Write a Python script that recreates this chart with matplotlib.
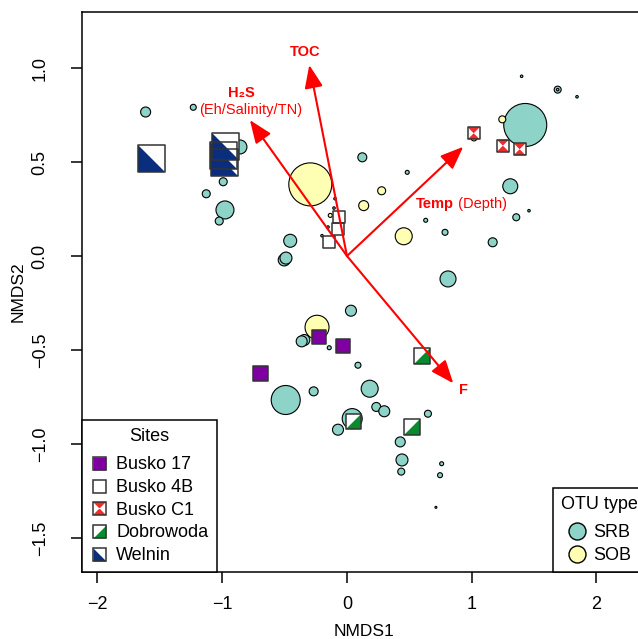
import matplotlib
matplotlib.use('Agg')
import matplotlib.pyplot as plt
from matplotlib.lines import Line2D
from matplotlib.path import Path
from matplotlib.legend_handler import HandlerTuple
from matplotlib.ticker import FuncFormatter

plt.rcParams['font.family'] = ['Liberation Sans', 'DejaVu Sans']

# OTU bubbles (NMDS1, NMDS2, bubble diameter ~ relative abundance)
srb_x = [-1.614, -1.232, -0.858, -0.992, -1.128, -0.978, -1.024, -0.455, -0.503, -0.489,
         0.123, 1.309, 1.357, 0.786, 1.168, 0.810, 1.429, 1.689, 0.032, -0.342,
         -0.363, -0.142, 0.088, -0.491, -0.267, 0.182, 0.235, 0.299, 0.042, -0.072,
         0.649, 0.427, 0.441, 0.435, 0.759, 0.746, 0.483, 0.631,
         1.400, 1.844, 1.459, 0.713, -0.096, -0.104, -0.152, -0.200, 1.689]
srb_y = [0.766, 0.791, 0.580, 0.395, 0.331, 0.245, 0.186, 0.081, -0.021, -0.011,
         0.525, 0.371, 0.206, 0.126, 0.073, -0.122, 0.697, 0.885, -0.291, -0.447,
         -0.454, -0.488, -0.581, -0.766, -0.720, -0.706, -0.803, -0.826, -0.865, -0.924,
         -0.839, -0.989, -1.085, -1.147, -1.105, -1.166, 0.445, 0.190,
         0.956, 0.847, 0.241, -1.337, 0.305, 0.255, 0.154, 0.108, 0.885]
srb_size = [10, 6, 14, 8, 8, 18, 8, 13, 12, 12,
            9, 15, 7, 6, 9, 16, 43, 7, 11, 11,
            11, 4, 6, 29, 9, 17, 9, 11, 20, 11,
            7, 10, 12, 7, 4, 5, 4, 4,
            2.5, 2.5, 2.5, 2, 2.5, 2.5, 2.5, 2.5, 2.5]

sob_x = [-0.294, 1.245, 1.018, 0.278, 0.134, 0.455, -0.240, -0.134]
sob_y = [0.381, 0.727, 0.628, 0.347, 0.268, 0.105, -0.379, 0.216]
sob_size = [43, 7, 6, 8, 10, 17, 24, 4]

# samples per site
site_names = ['Busko 17', 'Busko 4B', 'Busko C1', 'Dobrowoda', 'Welnin']
busko17_x = [-0.222, -0.034, -0.695]
busko17_y = [-0.431, -0.477, -0.626]
busko17_size = [14, 14, 15]
busko4b_x = [-0.064, -0.075, -0.144]
busko4b_y = [0.207, 0.142, 0.073]
busko4b_size = [12, 12, 12]
buskoc1_x = [1.016, 1.250, 1.384]
buskoc1_y = [0.653, 0.587, 0.568]
buskoc1_size = [12, 12, 12]
dobro_x = [0.599, 0.054, 0.521]
dobro_y = [-0.532, -0.883, -0.908]
dobro_size = [16, 15, 16]
welnin_x = [-1.566, -0.986, -0.978, -0.970]
welnin_y = [0.520, 0.537, 0.500, 0.585]
welnin_size = [27, 27, 27, 27]

# environmental fit vectors
env_x = [-0.302, -0.778, 0.932, 0.852]
env_y = [1.016, 0.723, 0.581, -0.677]

SRB_COL = '#8DD3C7'
SOB_COL = '#FFFFB3'
PX = 0.72  # points per pixel at dpi 100

lower_right = Path([(-1, -1), (1, -1), (1, 1), (-1, -1)],
                   [Path.MOVETO, Path.LINETO, Path.LINETO, Path.CLOSEPOLY])
lower_left = Path([(-1, 1), (-1, -1), (1, -1), (-1, 1)],
                  [Path.MOVETO, Path.LINETO, Path.LINETO, Path.CLOSEPOLY])
hourglass = Path([(-1, 1), (1, 1), (0, 0), (-1, 1),
                  (-1, -1), (1, -1), (0, 0), (-1, -1)],
                 [Path.MOVETO, Path.LINETO, Path.LINETO, Path.CLOSEPOLY] * 2)

site_styles = [
    ('#7F00A0', None, None),
    ('white', None, None),
    ('white', hourglass, '#EE2C2C'),
    ('white', lower_right, '#0A8A2E'),
    ('white', lower_left, '#0B2D7E'),
]
site_data = [
    (busko17_x, busko17_y, busko17_size),
    (busko4b_x, busko4b_y, busko4b_size),
    (buskoc1_x, buskoc1_y, buskoc1_size),
    (dobro_x, dobro_y, dobro_size),
    (welnin_x, welnin_y, welnin_size),
]


def draw_site(ax, xs, ys, sizes, face, overlay, overlay_col):
    s = [(d * PX) ** 2 for d in sizes]
    ax.scatter(xs, ys, s=s, marker='s', color=face, edgecolors='none', zorder=3)
    if overlay is not None:
        ax.scatter(xs, ys, s=s, marker=overlay, color=overlay_col, edgecolors='none', zorder=3)
    ax.scatter(xs, ys, s=s, marker='s', facecolors='none', edgecolors='#333333',
               linewidths=1.1, zorder=3)


def site_handle(face, overlay, overlay_col):
    ms = 13 * PX
    parts = [Line2D([], [], ls='', marker='s', ms=ms, mfc=face, mec='none')]
    if overlay is not None:
        parts.append(Line2D([], [], ls='', marker=overlay, ms=ms, mfc=overlay_col, mec='none'))
    parts.append(Line2D([], [], ls='', marker='s', ms=ms, mfc='none', mec='#333333', mew=1.1))
    return tuple(parts)


def style_legend(leg):
    leg.get_frame().set_linewidth(1.1)
    leg.set_zorder(6)
    leg._legend_box.sep = 8


fig = plt.figure(figsize=(6.38, 6.39), dpi=100)
ax = fig.add_axes([82 / 638, 67 / 639, 564 / 638, 560 / 639])
ax.set_xlim(-2.124, 2.397)
ax.set_ylim(-1.681, 1.298)

ax.scatter(srb_x, srb_y, s=[(d * PX) ** 2 for d in srb_size], color=SRB_COL,
           edgecolors='black', linewidths=0.8, zorder=2)
ax.scatter(sob_x, sob_y, s=[(d * PX) ** 2 for d in sob_size], color=SOB_COL,
           edgecolors='black', linewidths=0.8, zorder=2)

for (xs, ys, sz), (face, ov, ovc) in zip(site_data, site_styles):
    draw_site(ax, xs, ys, sz, face, ov, ovc)

# vectors
for ex, ey in zip(env_x, env_y):
    ax.annotate('', xy=(ex, ey), xytext=(0, 0), zorder=4,
                arrowprops=dict(arrowstyle='-|>,head_length=0.7,head_width=0.28',
                                color='red', lw=1.5, mutation_scale=20,
                                shrinkA=0, shrinkB=0))
ax.text(-0.337, 1.083, 'TOC', color='red', fontsize=10.5, fontweight='bold',
        ha='center', va='center', zorder=4)
ax.text(-0.850, 0.865, 'H\u2082S', color='red', fontsize=10.5, fontweight='bold',
        ha='center', va='center', zorder=4)
ax.text(-0.772, 0.777, '(Eh/Salinity/TN)', color='red', fontsize=10.5,
        ha='center', va='center', zorder=4)
t = ax.text(0.553, 0.275, 'Temp', color='red', fontsize=10.5, fontweight='bold',
            ha='left', va='center', zorder=4)
ax.annotate(' (Depth)', xy=(1, 0.5), xycoords=t, color='red', fontsize=10.5,
            ha='left', va='center', zorder=4)
ax.text(0.938, -0.713, 'F', color='red', fontsize=10.5, fontweight='bold',
        ha='center', va='center', zorder=4)

# axes
for sp in ax.spines.values():
    sp.set_linewidth(1.1)
ax.set_xticks([-2, -1, 0, 1, 2])
ax.set_yticks([-1.5, -1.0, -0.5, 0.0, 0.5, 1.0])
ax.xaxis.set_major_formatter(FuncFormatter(lambda v, p: f'{v:.0f}'.replace('-', '\u2212')))
ax.yaxis.set_major_formatter(FuncFormatter(lambda v, p: f'{v:.1f}'.replace('-', '\u2212')))
ax.tick_params(direction='out', length=8, width=1.1, labelsize=13)
ax.tick_params(axis='x', pad=9)
ax.tick_params(axis='y', labelrotation=90, pad=16)
for lb in ax.get_yticklabels():
    lb.set_va('center')
ax.set_xlabel('NMDS1', fontsize=12.5, labelpad=8)
ax.set_ylabel('NMDS2', fontsize=12.5, labelpad=4)

# legends
handles = [site_handle(*st) for st in site_styles]
leg1 = ax.legend(handles, site_names, title='Sites', loc='lower left', borderaxespad=0,
                 fancybox=False, edgecolor='black', framealpha=1, fontsize=13,
                 title_fontsize=13, handler_map={tuple: HandlerTuple(ndivide=1, pad=0)},
                 handlelength=1.0, handletextpad=0.45, labelspacing=0.31, borderpad=0.45)
style_legend(leg1)
ax.add_artist(leg1)

otu_handles = [Line2D([], [], ls='', marker='o', ms=17 * PX, mfc=c, mec='black', mew=1.0)
               for c in (SRB_COL, SOB_COL)]
leg2 = ax.legend(otu_handles, ['SRB', 'SOB'], title='OTU type', loc='lower right',
                 borderaxespad=0, fancybox=False, edgecolor='black', framealpha=1,
                 fontsize=13, title_fontsize=13, handlelength=1.0, handletextpad=0.4,
                 labelspacing=0.31, borderpad=0.45)
style_legend(leg2)

fig.savefig('out.png', dpi=100)
